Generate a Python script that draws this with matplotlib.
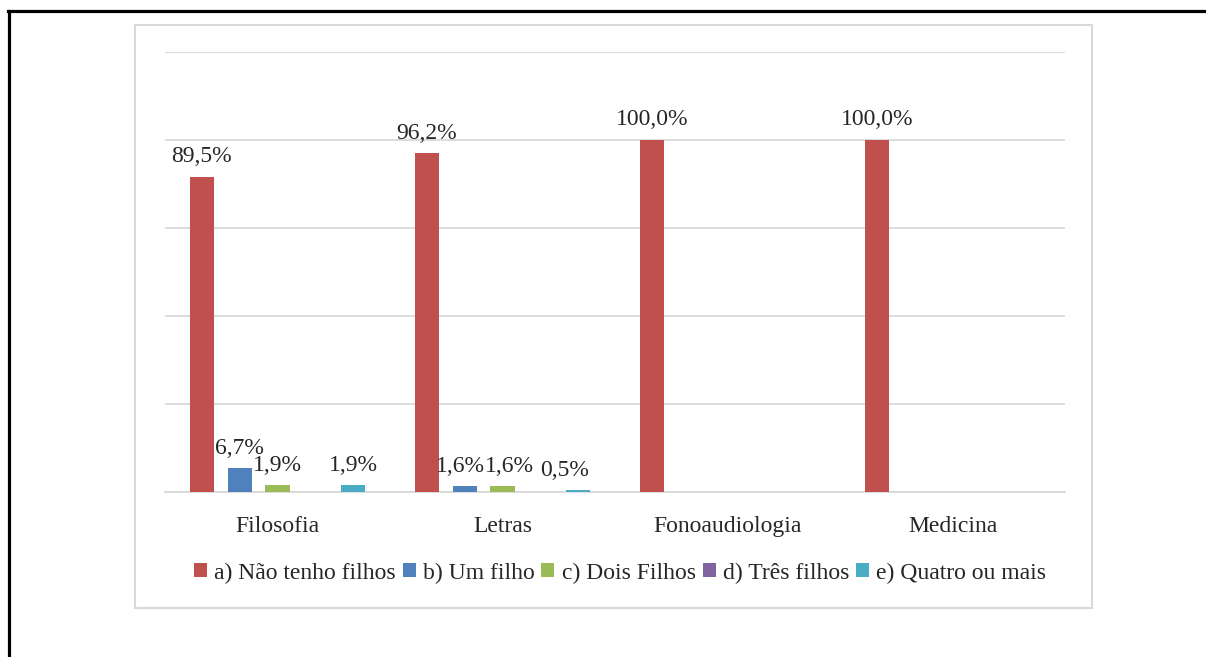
import matplotlib
matplotlib.use("Agg")
import matplotlib.pyplot as plt
from matplotlib.patches import Rectangle
from matplotlib.lines import Line2D
import numpy as np

plt.rcParams['font.family'] = ['Liberation Serif', 'DejaVu Serif']

# cursos e respostas (%)
cursos = ['Filosofia', 'Letras', 'Fonoaudiologia', 'Medicina']
series = ['a) Não tenho filhos', 'b) Um filho', 'c) Dois Filhos',
          'd) Três filhos', 'e) Quatro ou mais']
nao_tenho = [89.5, 96.2, 100.0, 100.0]
um_filho = [6.7, 1.6, 0, 0]
dois_filhos = [1.9, 1.6, 0, 0]
tres_filhos = [0, 0, 0, 0]
quatro_ou_mais = [1.9, 0.5, 0, 0]
cores = ['#C0504D', '#4F81BD', '#9BBB59', '#8064A2', '#4BACC6']

valores = [nao_tenho, um_filho, dois_filhos, tres_filhos, quatro_ou_mais]

# pequenos deslocamentos (pt) dos rótulos apertados em Letras
desloc = {(1, 1): -3, (2, 1): 5, (4, 1): -10}

fig = plt.figure(figsize=(12.06, 6.57), dpi=100)
ax = fig.add_axes([165/1206, 1-492/657, 900/1206, 440/657])

x = np.arange(len(cursos))
passo = 0.168
larg = 0.107
for i, (nome, vals, cor) in enumerate(zip(series, valores, cores)):
    pos = x + (i - 2) * passo
    ax.bar(pos, vals, width=larg, color=cor, label=nome, zorder=3)
    for j, (p, v) in enumerate(zip(pos, vals)):
        if v > 0:
            ax.annotate(f"{v:.1f}%".replace('.', ','), (p, v),
                        xytext=(desloc.get((i, j), 0), 7),
                        textcoords='offset points',
                        ha='center', va='bottom', fontsize=17, color='#262626')

ax.set_xlim(-0.5, 3.5)
ax.set_ylim(0, 125)
ax.set_yticks(np.arange(0, 126, 25))
ax.yaxis.grid(True, color='#d9d9d9', lw=1.3, zorder=0)
ax.tick_params(axis='y', left=False, labelleft=False)
ax.tick_params(axis='x', bottom=False, pad=14, labelsize=17, labelcolor='#262626')
ax.set_xticks(x)
ax.set_xticklabels(cursos)
for s in ['top', 'right', 'left']:
    ax.spines[s].set_visible(False)
ax.spines['bottom'].set_color('#d9d9d9')
ax.spines['bottom'].set_linewidth(1.3)

fig.legend(loc='center', bbox_to_anchor=(620/1206, 1-573/657), ncol=5,
           frameon=False, fontsize=17, handlelength=0.55, handleheight=0.55,
           handletextpad=0.3, columnspacing=0.3, labelcolor='#262626')

# moldura da área do gráfico
fig.patches.append(Rectangle((135/1206, 1-608/657), 957/1206, 583/657,
                             transform=fig.transFigure, fill=False,
                             edgecolor='#d9d9d9', lw=1.5))
# borda preta externa
fig.lines.append(Line2D([8.5/1206, 8.5/1206], [0, 1-10.5/657],
                        transform=fig.transFigure, color='black', lw=2.3))
fig.lines.append(Line2D([7.5/1206, 1], [1-10.5/657, 1-10.5/657],
                        transform=fig.transFigure, color='black', lw=2.3))

fig.savefig('out.png', dpi=100, facecolor='white')
